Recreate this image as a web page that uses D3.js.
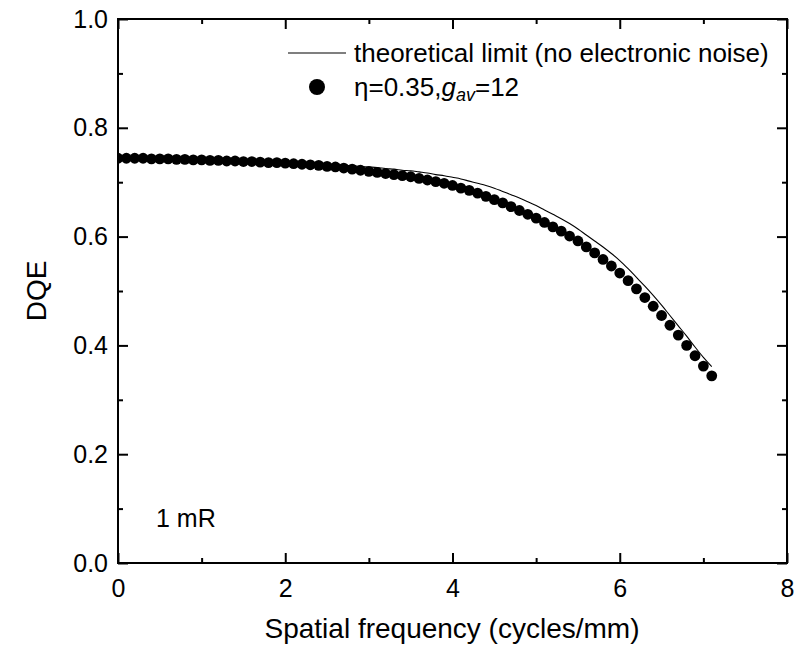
<!DOCTYPE html>
<html>
<head>
<meta charset="utf-8">
<script src="https://cdn.jsdelivr.net/npm/d3@7"></script>
<style>
  body { margin: 0; background: #fff; }
  text { font-family: "Liberation Sans", Arial, sans-serif; fill: #000; }
</style>
</head>
<body>
<svg id="chart" width="798" height="650"></svg>
<script>
// Spatial frequency samples (cycles/mm)
const freq = [
  0.0, 0.1, 0.2, 0.3, 0.4, 0.5, 0.6, 0.7, 0.8, 0.9,
  1.0, 1.1, 1.2, 1.3, 1.4, 1.5, 1.6, 1.7, 1.8, 1.9,
  2.0, 2.1, 2.2, 2.3, 2.4, 2.5, 2.6, 2.7, 2.8, 2.9,
  3.0, 3.1, 3.2, 3.3, 3.4, 3.5, 3.6, 3.7, 3.8, 3.9,
  4.0, 4.1, 4.2, 4.3, 4.4, 4.5, 4.6, 4.7, 4.8, 4.9,
  5.0, 5.1, 5.2, 5.3, 5.4, 5.5, 5.6, 5.7, 5.8, 5.9,
  6.0, 6.1, 6.2, 6.3, 6.4, 6.5, 6.6, 6.7, 6.8, 6.9,
  7.0, 7.1
];

// DQE with eta = 0.35, g_av = 12
const dqeModel = [
  0.744, 0.744, 0.744, 0.744, 0.743, 0.743, 0.743, 0.742, 0.742, 0.741,
  0.741, 0.740, 0.740, 0.739, 0.739, 0.738, 0.738, 0.737, 0.736, 0.736,
  0.735, 0.734, 0.733, 0.732, 0.731, 0.729, 0.728, 0.726, 0.724, 0.722,
  0.720, 0.718, 0.716, 0.714, 0.712, 0.710, 0.707, 0.704, 0.701, 0.698,
  0.694, 0.689, 0.685, 0.680, 0.674, 0.668, 0.662, 0.655, 0.648, 0.641,
  0.634, 0.626, 0.618, 0.610, 0.601, 0.592, 0.581, 0.570, 0.558, 0.546,
  0.533, 0.519, 0.504, 0.488, 0.472, 0.455, 0.437, 0.419, 0.400, 0.381,
  0.362, 0.344
];

// Theoretical limit (no electronic noise)
const dqeLimit = [
  0.745, 0.745, 0.745, 0.745, 0.744, 0.744, 0.744, 0.743, 0.743, 0.742,
  0.742, 0.742, 0.741, 0.741, 0.740, 0.740, 0.739, 0.739, 0.738, 0.738,
  0.737, 0.736, 0.735, 0.735, 0.734, 0.733, 0.732, 0.731, 0.730, 0.729,
  0.728, 0.727, 0.725, 0.724, 0.722, 0.721, 0.719, 0.717, 0.714, 0.712,
  0.709, 0.706, 0.702, 0.698, 0.694, 0.689, 0.683, 0.677, 0.671, 0.664,
  0.657, 0.649, 0.641, 0.633, 0.624, 0.614, 0.603, 0.592, 0.581, 0.569,
  0.556, 0.541, 0.525, 0.509, 0.492, 0.474, 0.455, 0.436, 0.417, 0.397,
  0.378, 0.361
];

const xMajorTicks = [0, 2, 4, 6, 8];
const xMinorTicks = [1, 3, 5, 7];
const yMajorTicks = [0.0, 0.2, 0.4, 0.6, 0.8, 1.0];
const yMinorTicks = [0.1, 0.3, 0.5, 0.7, 0.9];

const svg = d3.select("#chart");
const plotLeft = 118, plotRight = 787, plotTop = 19, plotBottom = 563;

const x = d3.scaleLinear().domain([0, 8]).range([plotLeft, plotRight]);
const y = d3.scaleLinear().domain([0, 1]).range([plotBottom, plotTop]);

const fmtY = d3.format(".1f");
const fmtX = d3.format("d");

// Clip region for the plotted data
svg.append("defs").append("clipPath").attr("id", "plotClip")
  .append("rect")
  .attr("x", plotLeft).attr("y", plotTop)
  .attr("width", plotRight - plotLeft).attr("height", plotBottom - plotTop);

function styleAxis(g) {
  g.select(".domain").remove();
  g.selectAll(".tick line").attr("stroke", "#000").attr("stroke-width", 2);
  g.selectAll(".tick text").style("font-size", "25px").attr("fill", "#000");
}

// Bottom axis with labels (ticks point inward)
svg.append("g").attr("transform", `translate(0,${plotBottom})`)
  .call(d3.axisBottom(x).tickValues(xMajorTicks).tickFormat(fmtX).tickSizeInner(-10).tickSizeOuter(0).tickPadding(16))
  .call(styleAxis);
svg.append("g").attr("transform", `translate(0,${plotBottom})`)
  .call(d3.axisBottom(x).tickValues(xMinorTicks).tickFormat("").tickSizeInner(-5).tickSizeOuter(0))
  .call(styleAxis);

// Top axis (ticks only)
svg.append("g").attr("transform", `translate(0,${plotTop})`)
  .call(d3.axisTop(x).tickValues(xMajorTicks).tickFormat("").tickSizeInner(-10).tickSizeOuter(0))
  .call(styleAxis);
svg.append("g").attr("transform", `translate(0,${plotTop})`)
  .call(d3.axisTop(x).tickValues(xMinorTicks).tickFormat("").tickSizeInner(-5).tickSizeOuter(0))
  .call(styleAxis);

// Left axis with labels
svg.append("g").attr("transform", `translate(${plotLeft},0)`)
  .call(d3.axisLeft(y).tickValues(yMajorTicks).tickFormat(fmtY).tickSizeInner(-10).tickSizeOuter(0).tickPadding(10))
  .call(styleAxis);
svg.append("g").attr("transform", `translate(${plotLeft},0)`)
  .call(d3.axisLeft(y).tickValues(yMinorTicks).tickFormat("").tickSizeInner(-5).tickSizeOuter(0))
  .call(styleAxis);

// Right axis (ticks only)
svg.append("g").attr("transform", `translate(${plotRight},0)`)
  .call(d3.axisRight(y).tickValues(yMajorTicks).tickFormat("").tickSizeInner(-10).tickSizeOuter(0))
  .call(styleAxis);
svg.append("g").attr("transform", `translate(${plotRight},0)`)
  .call(d3.axisRight(y).tickValues(yMinorTicks).tickFormat("").tickSizeInner(-5).tickSizeOuter(0))
  .call(styleAxis);

// Plot frame
svg.append("rect")
  .attr("x", plotLeft).attr("y", plotTop)
  .attr("width", plotRight - plotLeft).attr("height", plotBottom - plotTop)
  .attr("fill", "none").attr("stroke", "#000").attr("stroke-width", 2);

const plot = svg.append("g").attr("clip-path", "url(#plotClip)");

// Theoretical limit curve
const line = d3.line().x((d, i) => x(freq[i])).y(d => y(d)).curve(d3.curveMonotoneX);
plot.append("path")
  .datum(dqeLimit)
  .attr("d", line)
  .attr("fill", "none").attr("stroke", "#000").attr("stroke-width", 1.1);

// Model points
plot.selectAll("circle.pt")
  .data(dqeModel)
  .join("circle")
  .attr("class", "pt")
  .attr("cx", (d, i) => x(freq[i]))
  .attr("cy", d => y(d))
  .attr("r", 5.4)
  .attr("fill", "#000");

// Legend
const legend = svg.append("g");
legend.append("line")
  .attr("x1", 288).attr("x2", 346).attr("y1", 53).attr("y2", 53)
  .attr("stroke", "#000").attr("stroke-width", 1.1);
legend.append("text")
  .attr("x", 354).attr("y", 53).attr("dy", "0.35em")
  .style("font-size", "26px")
  .text("theoretical limit (no electronic noise)");
legend.append("circle")
  .attr("cx", 317).attr("cy", 87).attr("r", 8).attr("fill", "#000");
const lt = legend.append("text")
  .attr("x", 354).attr("y", 87).attr("dy", "0.35em")
  .style("font-size", "26px");
lt.append("tspan").text("η=0.35,");
lt.append("tspan").style("font-style", "italic").text("g");
lt.append("tspan").style("font-style", "italic").style("font-size", "18px").attr("dy", 5).text("av");
lt.append("tspan").attr("dy", -5).text("=12");

// Exposure annotation
svg.append("text")
  .attr("x", 156).attr("y", 527)
  .style("font-size", "25px")
  .text("1 mR");

// Axis titles
svg.append("text")
  .attr("x", 452).attr("y", 638)
  .attr("text-anchor", "middle")
  .style("font-size", "28px")
  .text("Spatial frequency (cycles/mm)");
svg.append("text")
  .attr("transform", `translate(46,${(plotTop + plotBottom) / 2}) rotate(-90)`)
  .attr("text-anchor", "middle")
  .style("font-size", "28px")
  .text("DQE");
</script>
</body>
</html>
